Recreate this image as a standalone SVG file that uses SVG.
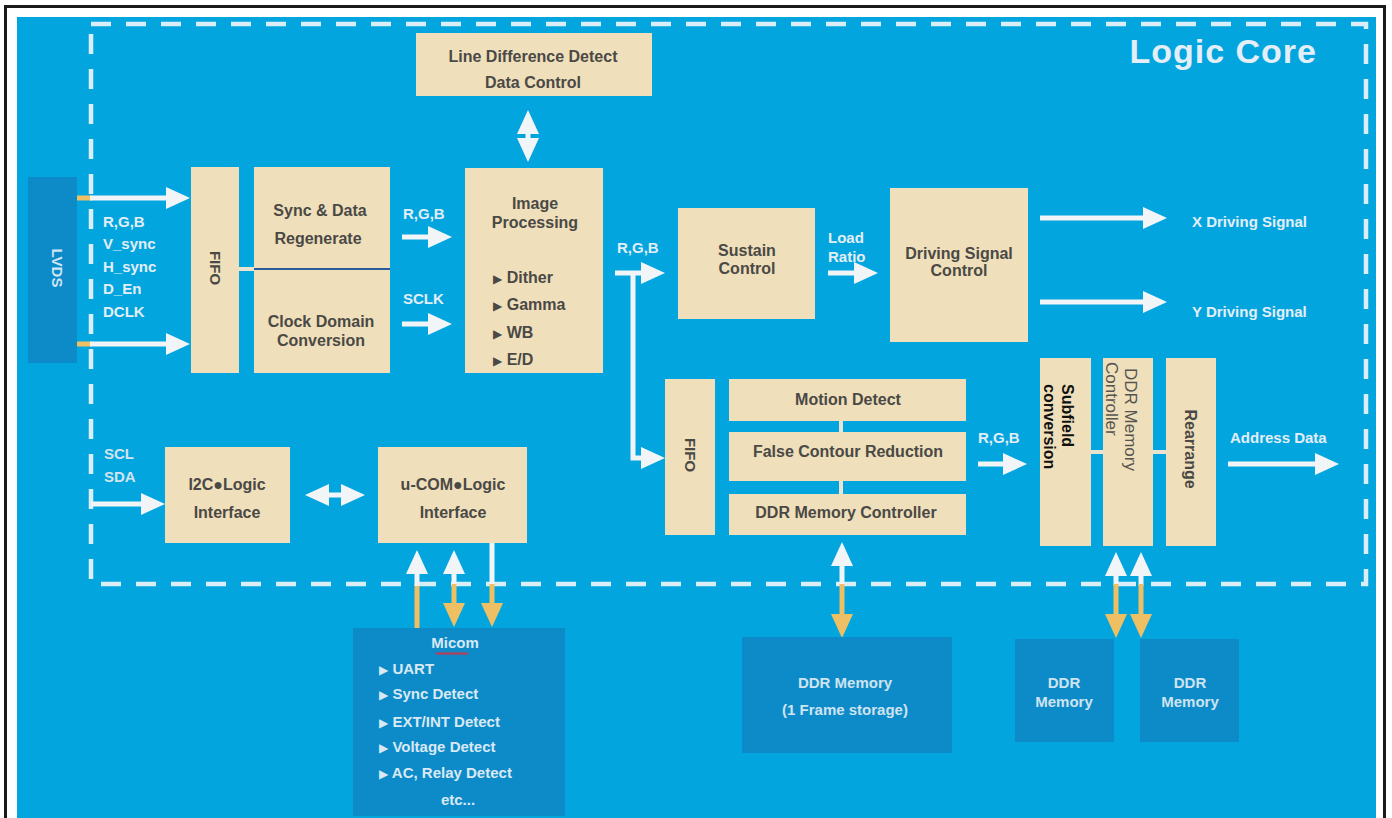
<svg xmlns="http://www.w3.org/2000/svg" width="1392" height="818" viewBox="0 0 1392 818">
<style>
.box{fill:#efdfbb}
.dbox{fill:#0d8bc9}
.t{font-family:"Liberation Sans","DejaVu Sans",sans-serif;font-weight:bold;font-size:16px;fill:#4a4945;text-anchor:middle}
.w{font-family:"Liberation Sans","DejaVu Sans",sans-serif;font-weight:bold;font-size:15px;fill:#e4eef6}
.wm{font-family:"Liberation Sans","DejaVu Sans",sans-serif;font-weight:bold;font-size:15px;fill:#d9e9f4;text-anchor:middle}
.ts{text-anchor:start}
.k{fill:#111111}
.f15{font-size:15px}
.lt{fill:#d9e9f4}
.mt{fill:#cfe3f0}
.b{font-size:12px}
.arr{stroke:#f2f5f8;stroke-width:5;fill:none}
.org{stroke:#efc063;stroke-width:5;fill:none}
.lnk{stroke:#e9e4d2;stroke-width:4;fill:none}
</style>
<defs>
<marker id="aw" viewBox="0 0 24 22" markerUnits="userSpaceOnUse" markerWidth="24" markerHeight="22" refX="18" refY="11" orient="auto-start-reverse"><path d="M0,0 L24,11 L0,22 Z" fill="#f2f5f8"/></marker>
<marker id="ao" viewBox="0 0 24 22" markerUnits="userSpaceOnUse" markerWidth="24" markerHeight="22" refX="18" refY="11" orient="auto-start-reverse"><path d="M0,0 L24,11 L0,22 Z" fill="#efc063"/></marker>
</defs>
<rect x="0" y="0" width="1392" height="818" fill="#ffffff"/>
<rect x="5.5" y="6.5" width="1379" height="830" fill="none" stroke="#1a1a1a" stroke-width="3"/>
<rect x="17" y="17" width="1359" height="801" fill="#03a5df"/>
<rect x="91" y="24" width="1275" height="560" fill="none" stroke="#d9eef8" stroke-width="4.5" stroke-dasharray="20 15"/>
<text x="1317" y="63" font-family="Liberation Sans, DejaVu Sans, sans-serif" font-weight="bold" font-size="34" letter-spacing="1" fill="#e4eef6" text-anchor="end">Logic Core</text>

<g id="connectors">
<line class="org" x1="77" y1="198" x2="92" y2="198"/>
<line class="arr" x1="90" y1="198" x2="184" y2="198" marker-end="url(#aw)"/>
<line class="org" x1="77" y1="344" x2="92" y2="344"/>
<line class="arr" x1="90" y1="344" x2="184" y2="344" marker-end="url(#aw)"/>
<line class="lnk" x1="239" y1="269" x2="254" y2="269"/>
<line class="arr" x1="402" y1="237" x2="446" y2="237" marker-end="url(#aw)"/>
<line class="arr" x1="402" y1="324" x2="446" y2="324" marker-end="url(#aw)"/>
<line class="arr" x1="528" y1="116" x2="528" y2="156" marker-start="url(#aw)" marker-end="url(#aw)"/>
<line class="arr" x1="615" y1="273" x2="659" y2="273" marker-end="url(#aw)"/>
<polyline class="arr" points="633,273 633,458 659,458" marker-end="url(#aw)"/>
<line class="arr" x1="828" y1="273" x2="872" y2="273" marker-end="url(#aw)"/>
<line class="arr" x1="1040" y1="218" x2="1161" y2="218" marker-end="url(#aw)"/>
<line class="arr" x1="1040" y1="302" x2="1161" y2="302" marker-end="url(#aw)"/>
<line class="lnk" x1="841" y1="421" x2="841" y2="432"/>
<line class="lnk" x1="841" y1="481" x2="841" y2="494"/>
<line class="arr" x1="978" y1="464" x2="1021" y2="464" marker-end="url(#aw)"/>
<line class="lnk" x1="1091" y1="452" x2="1103" y2="452"/>
<line class="lnk" x1="1153" y1="452" x2="1166" y2="452"/>
<line class="arr" x1="1228" y1="464" x2="1333" y2="464" marker-end="url(#aw)"/>
<line class="arr" x1="91" y1="504" x2="159" y2="504" marker-end="url(#aw)"/>
<line class="arr" x1="311" y1="495" x2="359" y2="495" marker-start="url(#aw)" marker-end="url(#aw)"/>
<line class="org" x1="417" y1="628" x2="417" y2="584"/>
<line class="arr" x1="417" y1="586" x2="417" y2="556" marker-end="url(#aw)"/>
<line class="arr" x1="454" y1="586" x2="454" y2="556" marker-end="url(#aw)"/>
<line class="org" x1="454" y1="584" x2="454" y2="621" marker-end="url(#ao)"/>
<line class="arr" x1="492" y1="543" x2="492" y2="586"/>
<line class="org" x1="492" y1="584" x2="492" y2="621" marker-end="url(#ao)"/>
<line class="arr" x1="842" y1="586" x2="842" y2="548" marker-end="url(#aw)"/>
<line class="org" x1="842" y1="584" x2="842" y2="632" marker-end="url(#ao)"/>
<line class="arr" x1="1116" y1="586" x2="1116" y2="558" marker-end="url(#aw)"/>
<line class="org" x1="1116" y1="584" x2="1116" y2="632" marker-end="url(#ao)"/>
<line class="arr" x1="1141" y1="586" x2="1141" y2="558" marker-end="url(#aw)"/>
<line class="org" x1="1141" y1="584" x2="1141" y2="632" marker-end="url(#ao)"/>
</g>

<g id="labels">
<text class="w" x="103" y="227">R,G,B</text>
<text class="w" x="103" y="249">V_sync</text>
<text class="w" x="103" y="272">H_sync</text>
<text class="w" x="103" y="294">D_En</text>
<text class="w" x="103" y="317">DCLK</text>
<text class="w" x="403" y="219">R,G,B</text>
<text class="w" x="403" y="304">SCLK</text>
<text class="w" x="617" y="253">R,G,B</text>
<text class="w" x="828" y="243">Load</text>
<text class="w" x="828" y="262">Ratio</text>
<text class="w" x="1192" y="227">X Driving Signal</text>
<text class="w" x="1192" y="317">Y Driving Signal</text>
<text class="w" x="978" y="443">R,G,B</text>
<text class="w" x="1230" y="443">Address Data</text>
<text class="w" x="104" y="459" style="fill:#d2e4ef">SCL</text>
<text class="w" x="104" y="482" style="fill:#d2e4ef">SDA</text>
</g>

<g id="lvds">
<rect class="dbox" x="28" y="177" width="49" height="186"/>
<text class="wm" transform="translate(52,268) rotate(90)" style="fill:#cfe5f3">LVDS</text>
</g>
<g id="fifo1">
<rect class="box" x="191" y="167" width="48" height="206"/>
<text class="t f15" transform="translate(210,268) rotate(90)">FIFO</text>
</g>
<g id="sync-data">
<rect class="box" x="254" y="167" width="136" height="102"/>
<text class="t" x="320" y="216">Sync &amp; Data</text>
<text class="t" x="318" y="244">Regenerate</text>
</g>
<g id="clock-domain">
<rect class="box" x="254" y="269" width="136" height="104"/>
<text class="t" x="321" y="327">Clock Domain</text>
<text class="t" x="321" y="346">Conversion</text>
<line x1="254" y1="269" x2="390" y2="269" stroke="#2a5c9c" stroke-width="2"/>
</g>
<g id="line-diff">
<rect class="box" x="416" y="33" width="236" height="63"/>
<text class="t" x="533" y="62">Line Difference Detect</text>
<text class="t" x="533" y="88">Data Control</text>
</g>
<g id="image-proc">
<rect class="box" x="465" y="168" width="138" height="205"/>
<text class="t" x="535" y="209">Image</text>
<text class="t" x="535" y="228">Processing</text>
<text class="t ts" x="493" y="283"><tspan class="b">▶</tspan> Dither</text>
<text class="t ts" x="493" y="310"><tspan class="b">▶</tspan> Gamma</text>
<text class="t ts" x="493" y="338"><tspan class="b">▶</tspan> WB</text>
<text class="t ts" x="493" y="365"><tspan class="b">▶</tspan> E/D</text>
</g>
<g id="sustain">
<rect class="box" x="678" y="208" width="137" height="111"/>
<text class="t" x="747" y="256">Sustain</text>
<text class="t" x="747" y="274">Control</text>
</g>
<g id="driving">
<rect class="box" x="890" y="188" width="138" height="154"/>
<text class="t" x="959" y="259">Driving Signal</text>
<text class="t" x="959" y="276">Control</text>
</g>
<g id="fifo2">
<rect class="box" x="665" y="379" width="50" height="156"/>
<text class="t f15" transform="translate(685,455) rotate(90)">FIFO</text>
</g>
<g id="motion">
<rect class="box" x="729" y="379" width="237" height="42"/>
<text class="t" x="848" y="405">Motion Detect</text>
</g>
<g id="false-contour">
<rect class="box" x="729" y="432" width="237" height="49"/>
<text class="t" x="848" y="457">False Contour Reduction</text>
</g>
<g id="ddr-ctrl">
<rect class="box" x="729" y="494" width="237" height="41"/>
<text class="t" x="846" y="518">DDR Memory Controller</text>
</g>
<g id="subfield">
<rect class="box" x="1040" y="358" width="51" height="188"/>
<text class="t ts k" transform="translate(1062,384) rotate(90)">Subfield</text>
<text class="t ts k" transform="translate(1044,384) rotate(90)">conversion</text>
</g>
<g id="ddr-ctrl-v">
<rect class="box" x="1103" y="358" width="50" height="188"/>
<text transform="translate(1125,368) rotate(90)" font-family="Liberation Sans, DejaVu Sans, sans-serif" font-size="17" fill="#555450">DDR Memory</text>
<text transform="translate(1106,362) rotate(90)" font-family="Liberation Sans, DejaVu Sans, sans-serif" font-size="17" fill="#555450">Controller</text>
</g>
<g id="rearrange">
<rect class="box" x="1166" y="358" width="50" height="188"/>
<text class="t" transform="translate(1185,449) rotate(90)">Rearrange</text>
</g>
<g id="i2c">
<rect class="box" x="165" y="447" width="125" height="96"/>
<text class="t" x="227" y="490">I2C●Logic</text>
<text class="t" x="227" y="518">Interface</text>
</g>
<g id="ucom">
<rect class="box" x="378" y="447" width="149" height="96"/>
<text class="t" x="453" y="490">u-COM●Logic</text>
<text class="t" x="453" y="518">Interface</text>
</g>
<g id="micom">
<rect class="dbox" x="353" y="628" width="212" height="188"/>
<text class="wm" x="455" y="648">Micom</text>
<path d="M436,652.5 l2,2 l2,-2 l2,2 l2,-2 l2,2 l2,-2 l2,2 l2,-2 l2,2 l2,-2 l2,2 l2,-2 l2,2 l2,-2 l2,2 l2,-2" fill="none" stroke="#d0334a" stroke-width="1.3"/>
<text class="w lt" x="379" y="674"><tspan class="b">▶</tspan> UART</text>
<text class="w lt" x="379" y="699"><tspan class="b">▶</tspan> Sync Detect</text>
<text class="w lt" x="379" y="727"><tspan class="b">▶</tspan> EXT/INT Detect</text>
<text class="w lt" x="379" y="752"><tspan class="b">▶</tspan> Voltage Detect</text>
<text class="w lt" x="379" y="778"><tspan class="b">▶</tspan> AC, Relay Detect</text>
<text class="wm" x="458" y="805">etc...</text>
</g>
<g id="ddr-frame">
<rect class="dbox" x="742" y="637" width="210" height="116"/>
<text class="wm mt" x="845" y="688">DDR Memory</text>
<text class="wm mt" x="845" y="715">(1 Frame storage)</text>
</g>
<g id="ddr-mem-1">
<rect class="dbox" x="1015" y="639" width="99" height="103"/>
<text class="wm mt" x="1064" y="688">DDR</text>
<text class="wm mt" x="1064" y="707">Memory</text>
</g>
<g id="ddr-mem-2">
<rect class="dbox" x="1140" y="639" width="99" height="103"/>
<text class="wm mt" x="1190" y="688">DDR</text>
<text class="wm mt" x="1190" y="707">Memory</text>
</g>
</svg>
